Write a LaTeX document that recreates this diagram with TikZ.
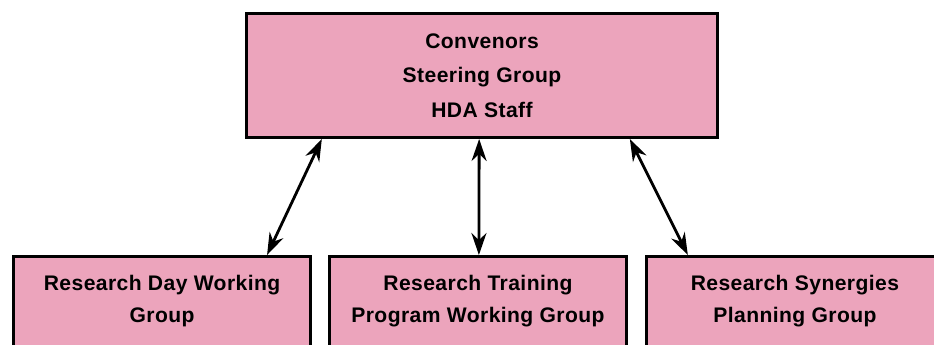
\documentclass[tikz,border=0pt]{standalone}
\usepackage{fontspec}
\setmainfont{Liberation Sans}[LetterSpace=2]
\usetikzlibrary{arrows.meta,calc,positioning}
\definecolor{boxpink}{RGB}{236,164,188}

\begin{document}
\begin{tikzpicture}[
      x=0.02cm, y=-0.02cm,
      board/.style={rectangle,draw,line width=1.7pt,fill=boxpink,minimum width=9.42cm,minimum height=2.48cm,align=center,font=\bfseries\fontsize{12}{19.5}\selectfont},
      wgroup/.style={rectangle,draw,line width=1.7pt,fill=boxpink,minimum width=5.94cm,anchor=north,align=center,inner ysep=0.37cm,text depth=2.5cm,font=\bfseries\fontsize{12}{18.5}\selectfont},
      link/.style={{Stealth[length=0.44cm,width=0.3cm]}-{Stealth[length=0.44cm,width=0.3cm]},line width=1.6pt}
    ]
    \useasboundingbox (0,0) rectangle (934,345);
    \clip (0,0) rectangle (934,345);

    % Steering box
    \node[board] (conv) at (482,75.5) {Convenors\\Steering Group\\HDA Staff};

    % Working groups
    \node[wgroup] (train) at (478,255) {Research Training\\Program Working Group};
    \node[wgroup,left=0.32cm of train] (rday) {Research Day Working\\Group};
    \node[wgroup,right=0.34cm of train] (syn) {Research Synergies\\Planning Group};

    % Links
    \draw[link] ($(conv.south west)!0.162!(conv.south east)$) -- ($(rday.north west)!0.85!(rday.north east)$);
    \draw[link] ($(conv.south west)!0.494!(conv.south east)$) -- ($(train.north west)!0.503!(train.north east)$);
    \draw[link] ($(conv.south west)!0.812!(conv.south east)$) -- ($(syn.north west)!0.143!(syn.north east)$);

  \end{tikzpicture}
\end{document}
